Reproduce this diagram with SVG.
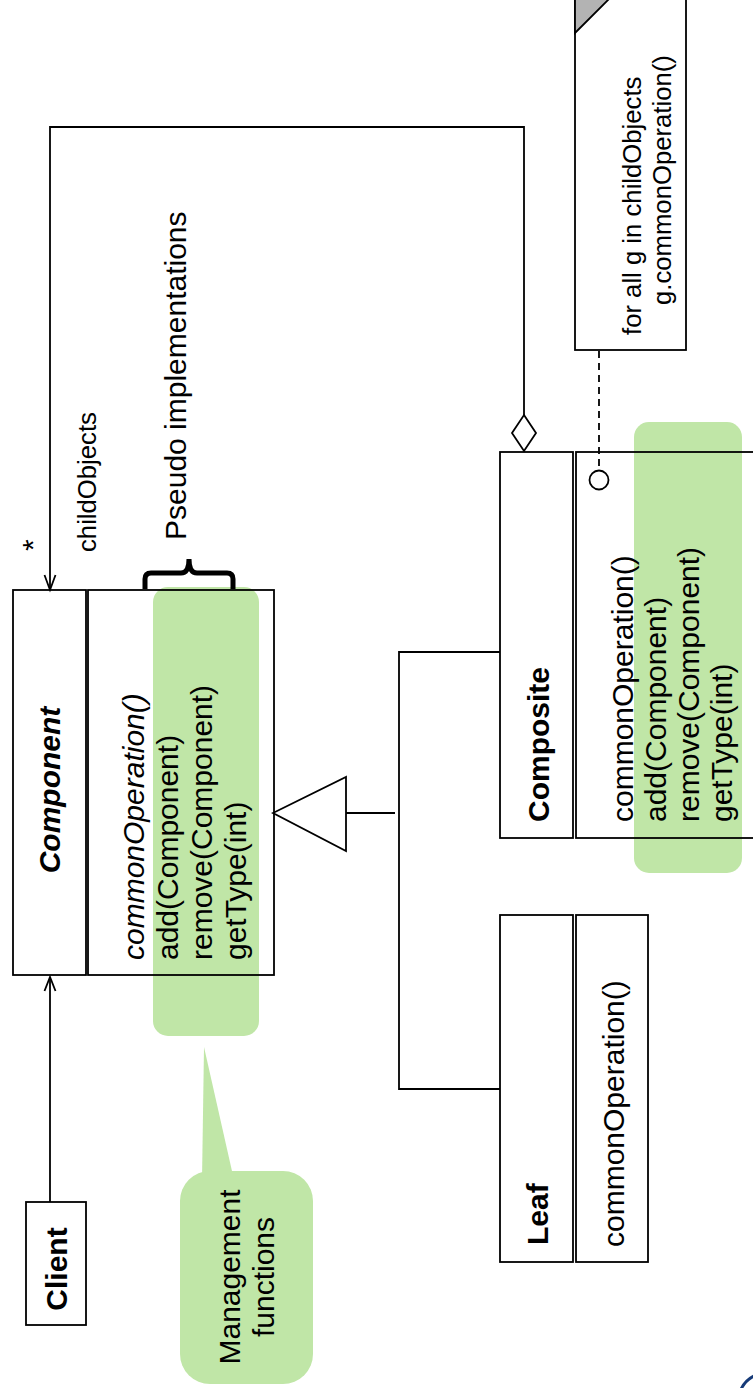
<svg xmlns="http://www.w3.org/2000/svg" width="753" height="1388" viewBox="0 0 753 1388">
  <style>
    .box { fill: #ffffff; stroke: #000000; stroke-width: 1.8; }
    .line { fill: none; stroke: #000000; stroke-width: 1.8; }
    .hl { fill: #c0e6a7; stroke: none; }
    .t { font-family: "Liberation Sans", Arial, sans-serif; font-size: 30px; fill: #000000; }
    .s { font-size: 25.7px; }
    .b { font-weight: bold; }
    .i { font-style: italic; }
    .mid { text-anchor: middle; }
  </style>

  <!-- class box fills (white, underneath the highlights) -->
  <g id="fills">
    <rect x="13" y="590" width="73" height="385" fill="#fff"/>
    <rect x="88" y="590" width="186" height="385" fill="#fff"/>
    <rect x="500" y="452" width="73" height="386" fill="#fff"/>
    <rect x="576" y="452" width="186" height="386" fill="#fff"/>
  </g>

  <!-- green highlights -->
  <g id="highlight-component">
    <rect class="hl" x="153" y="587" width="106" height="449" rx="15"/>
  </g>
  <g id="highlight-composite">
    <rect class="hl" x="634" y="422" width="108" height="451" rx="15"/>
  </g>

  <!-- callout bubble -->
  <g id="management-callout">
    <polygon class="hl" points="202,1180 204,1047 234,1180"/>
    <rect class="hl" x="180" y="1171" width="133" height="213" rx="30"/>
    <text class="t mid" transform="translate(240,1277) rotate(-90)">Management</text>
    <text class="t mid" transform="translate(274,1277) rotate(-90)">functions</text>
  </g>

  <!-- connectors -->
  <g id="connectors">
    <!-- aggregation: Composite to Component (childObjects) -->
    <path class="line" d="M524,415 L524,127 L50,127 L50,589"/>
    <polygon points="524,415 536,433 524,451 512,433" fill="#fff" stroke="#000" stroke-width="1.8"/>
    <polyline class="line" points="44.5,575 50,590 55.5,575"/>
    <!-- Client to Component -->
    <path class="line" d="M50,1202 L50,978"/>
    <polyline class="line" points="44.5,991 50,977 55.5,991"/>
    <!-- generalization -->
    <polygon points="273,813 346,777 346,851" fill="#fff" stroke="#000" stroke-width="1.8"/>
    <path class="line" d="M346,813 L395,813"/>
    <path class="line" d="M500,652 L399,652 L399,1089 L500,1089"/>
    <!-- note anchor -->
    <path class="line" d="M599,351 L599,470" stroke-dasharray="7 5"/>
    <circle cx="599" cy="480" r="9.5" fill="#fff" stroke="#000" stroke-width="1.8"/>
  </g>

  <!-- labels on connectors -->
  <g id="labels">
    <text class="t" font-size="60" transform="translate(43,551) rotate(-90)">*</text>
    <text class="t s" transform="translate(96,552) rotate(-90)">childObjects</text>
    <text class="t" transform="translate(186,540) rotate(-90)">Pseudo implementations</text>
    <path d="M145,589 L145,579 Q145,573 151,573 L181,573 Q189,573 189,559 Q189,573 197,573 L227,573 Q233,573 233,579 L233,589" fill="none" stroke="#000" stroke-width="5"/>
  </g>

  <g id="client">
    <rect class="box" x="26" y="1202" width="60" height="123"/>
    <text class="t b mid" transform="translate(66.5,1269) rotate(-90)">Client</text>
  </g>

  <g id="component">
    <rect class="box" x="13" y="590" width="73" height="385" style="fill:none"/>
    <rect class="box" x="88" y="590" width="186" height="385" style="fill:none"/>
    <text class="t b i mid" transform="translate(60,790) rotate(-90)">Component</text>
    <text class="t i" transform="translate(143.5,960) rotate(-90)">commonOperation()</text>
    <text class="t" transform="translate(177.5,960) rotate(-90)">add(Component)</text>
    <text class="t" transform="translate(211.5,960) rotate(-90)">remove(Component)</text>
    <text class="t" transform="translate(245.5,960) rotate(-90)">getType(int)</text>
  </g>

  <g id="composite">
    <rect class="box" x="500" y="452" width="73" height="386" style="fill:none"/>
    <rect class="box" x="576" y="452" width="186" height="386" style="fill:none"/>
    <text class="t b" transform="translate(549,822) rotate(-90)">Composite</text>
    <text class="t" transform="translate(633,822) rotate(-90)">commonOperation()</text>
    <text class="t" transform="translate(666,822) rotate(-90)">add(Component)</text>
    <text class="t" transform="translate(699,822) rotate(-90)">remove(Component)</text>
    <text class="t" transform="translate(732,822) rotate(-90)">getType(int)</text>
  </g>

  <g id="leaf">
    <rect class="box" x="500" y="915" width="73" height="347"/>
    <rect class="box" x="576" y="915" width="72" height="347"/>
    <text class="t b" transform="translate(548,1245) rotate(-90)">Leaf</text>
    <text class="t" transform="translate(624,1247) rotate(-90)">commonOperation()</text>
  </g>

  <g id="note">
    <rect class="box" x="575" y="-5" width="111" height="355"/>
    <polygon points="575,33 575,-3 611,-3" fill="#b3b3b3" stroke="#000" stroke-width="1.8"/>
    <text class="t s" transform="translate(641,335) rotate(-90)">for all g in childObjects</text>
    <text class="t s" transform="translate(671,305) rotate(-90)">g.commonOperation()</text>
  </g>

  <g id="corner-mark">
    <path d="M740,1392 Q744,1380 756,1375" fill="none" stroke="#163a78" stroke-width="3"/>
  </g>
</svg>
